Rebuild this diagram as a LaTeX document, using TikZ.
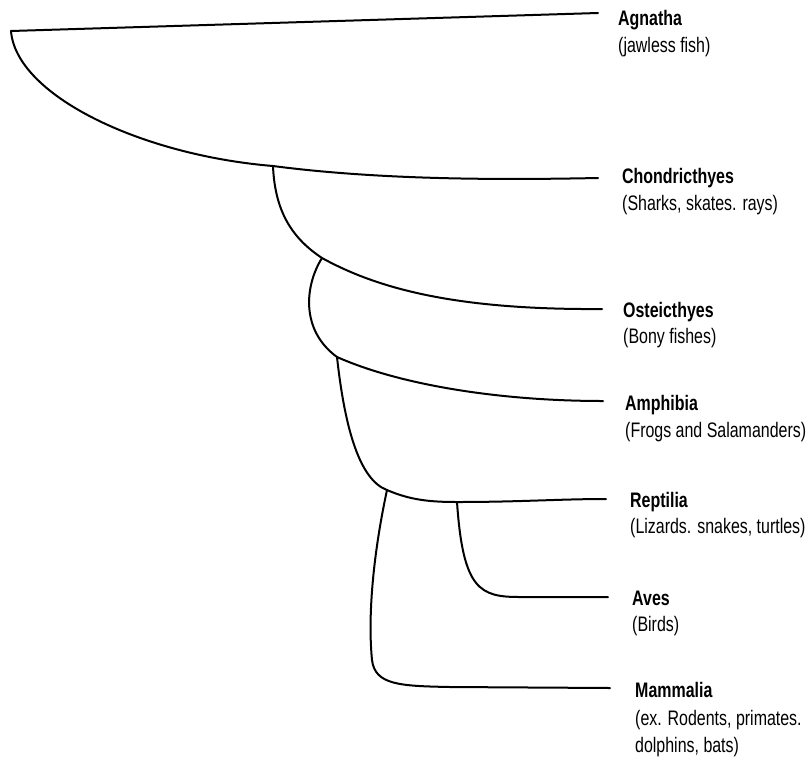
\documentclass[tikz,border=0pt]{standalone}
\usepackage{fontspec}
\setmainfont{Liberation Sans}[FakeStretch=0.76]
\begin{document}
\begin{tikzpicture}[x=1pt,y=-1pt,
  branch/.style={line width=2pt,line cap=round,line join=round},
  taxon/.style={anchor=base west,inner sep=0pt,font=\fontsize{21}{27.5}\selectfont\bfseries},
  desc/.style={anchor=base west,inner sep=0pt,font=\fontsize{21}{27.5}\selectfont}]
\useasboundingbox (0,0) rectangle (808,769);
% junctions and line ends
\coordinate (root) at (11,31);
\coordinate (agE) at (598,13);
\coordinate (chJ) at (273,166);
\coordinate (chE) at (598,178);
\coordinate (osJ) at (322,258);
\coordinate (osE) at (602,309);
\coordinate (amJ) at (337,357);
\coordinate (amE) at (603,401);
\coordinate (reJ) at (387,490);
\coordinate (avJ) at (457,502);
\coordinate (reE) at (606,499);
\coordinate (avB) at (520,597);
\coordinate (avE) at (608,597);
\coordinate (maB) at (372,660);
\coordinate (maC) at (450,687);
\coordinate (maE) at (610,688);
% labels
\node[taxon] (agN) at (618,25) {Agnatha};
\node[desc] (agD) at (618,52) {(jawless fish)};
\node[taxon] (chN) at (622,183) {Chondricthyes};
\node[desc] (chD) at (622,210) {(Sharks, skates. rays)};
\node[taxon] (osN) at (623,317) {Osteicthyes};
\node[desc] (osD) at (623,343) {(Bony fishes)};
\node[taxon] (amN) at (625,410) {Amphibia};
\node[desc] (amD) at (625,437) {(Frogs and Salamanders)};
\node[taxon] (reN) at (630,507) {Reptilia};
\node[desc] (reD) at (630,533) {(Lizards. snakes, turtles)};
\node[taxon] (avN) at (632,605) {Aves};
\node[desc] (avD) at (632,631) {(Birds)};
\node[taxon] (maN) at (635,697) {Mammalia};
\node[desc] (maD) at (635,725) {(ex. Rodents, primates.};
\node[desc] (maD2) at (635,752) {dolphins, bats)};
% tree
\draw[branch] (root) -- (agE);
\draw[branch] (root) .. controls (16,95) and (140,155) .. (chJ)
  .. controls (380,180) and (500,180) .. (chE);
\draw[branch] (chJ) .. controls (275,215) and (295,240) .. (osJ)
  .. controls (380,290) and (460,310) .. (osE);
\draw[branch] (osJ) .. controls (305,285) and (300,330) .. (amJ)
  .. controls (400,385) and (500,401) .. (amE);
\draw[branch] (amJ) .. controls (345,430) and (360,480) .. (reJ)
  .. controls (410,500) and (430,502) .. (avJ)
  .. controls (520,502) and (560,499) .. (reE);
\draw[branch] (avJ) .. controls (463,590) and (480,597) .. (avB) -- (avE);
\draw[branch] (reJ) .. controls (372,560) and (368,620) .. (maB)
  .. controls (375,685) and (400,686) .. (maC) -- (maE);
\end{tikzpicture}
\end{document}
